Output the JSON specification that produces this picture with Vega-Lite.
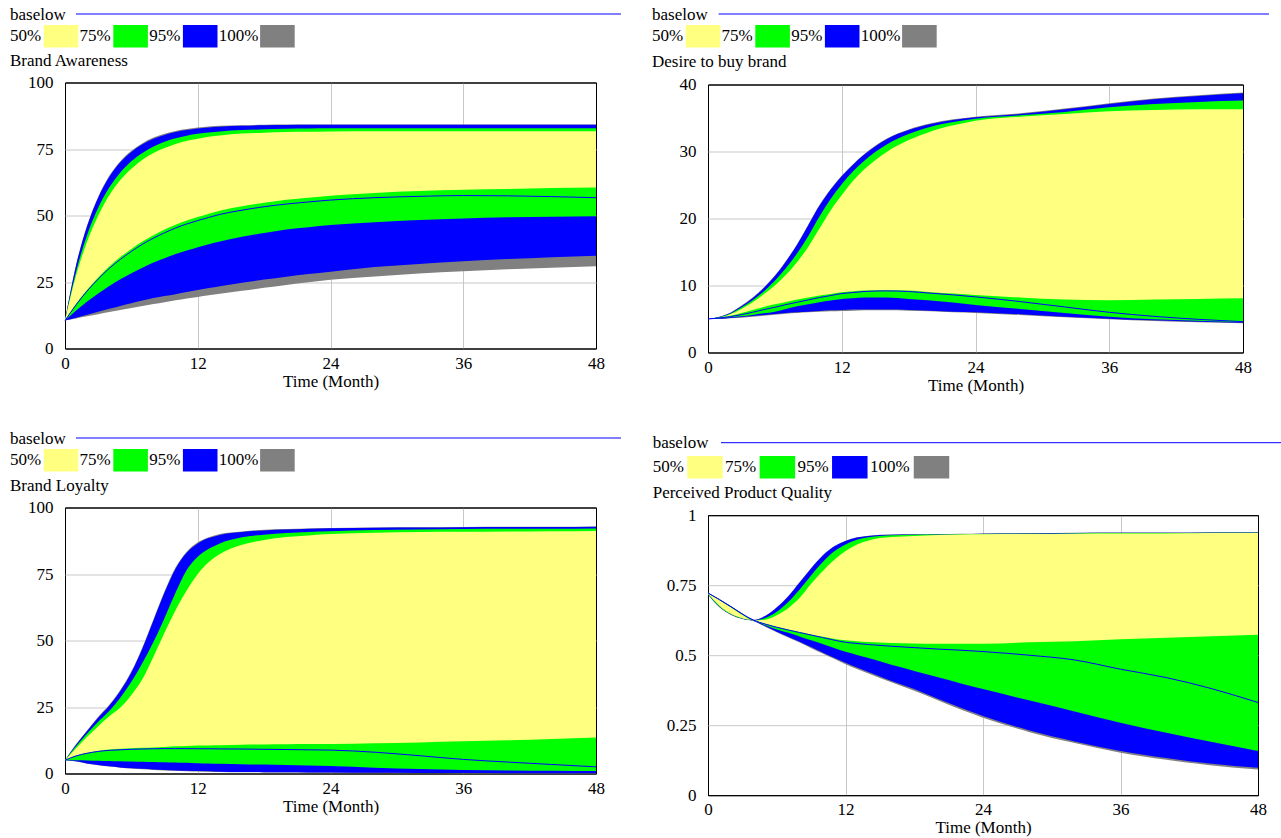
{
  "$schema": "https://vega.github.io/schema/vega-lite/v6.json",
  "background": "white",
  "padding": {"left": 9, "top": 5, "right": 0, "bottom": 0},
  "bounds": "flush",
  "spacing": 643,
  "hconcat": [
    {
      "bounds": "flush",
      "spacing": 424,
      "vconcat": [
        {
          "bounds": "flush",
          "spacing": 45.5,
          "vconcat": [
            {
              "width": 531, "height": 22.2, "view": {"stroke": null},
              "layer": [
                {"data": {"values": [{"series": "baselow"}]}, "mark": {"type": "text", "align": "left", "baseline": "alphabetic", "dy": 5.5},
                 "encoding": {"x": {"datum": "50%", "type": "nominal", "bandPosition": 0, "scale": {"type": "band", "domain": ["50%", "75%", "95%", "100%"], "range": [-55, 223.4], "paddingInner": 0, "paddingOuter": 0}, "axis": null},
                              "y": {"datum": "baselow", "type": "nominal", "scale": {"type": "point", "domain": ["baselow", "bands"], "padding": 0}, "axis": null},
                              "text": {"field": "series"}}},
                {"data": {"values": [{"series": "baselow"}]}, "mark": {"type": "rule", "color": "#0000FF", "strokeWidth": 1, "xOffset": 66, "x2Offset": 402.2},
                 "encoding": {"x": {"datum": "50%", "type": "nominal", "bandPosition": 0}, "x2": {"datum": "100%", "bandPosition": 0}, "y": {"datum": "baselow", "type": "nominal"}}},
                {"data": {"name": "bands"}, "mark": {"type": "text", "align": "left", "baseline": "alphabetic", "dy": 4.8},
                 "encoding": {"x": {"field": "band", "type": "nominal", "bandPosition": 0}, "y": {"datum": "bands", "type": "nominal"}, "text": {"field": "band"}}},
                {"data": {"name": "bands"}, "transform": [{"filter": "datum.band !== '100%'"}],
                 "mark": {"type": "point", "shape": "M-1,-0.647H1V0.647H-1Z", "size": 1197, "filled": true, "opacity": 1, "strokeWidth": 0, "xOffset": 16.2},
                 "encoding": {"x": {"field": "band", "type": "nominal"}, "y": {"datum": "bands", "type": "nominal"},
                              "color": {"field": "band", "type": "nominal", "scale": {"domain": ["50%", "75%", "95%", "100%"], "range": ["#FFFF80", "#00FF00", "#0000FF", "#808080"]}, "legend": null}}},
                {"data": {"name": "bands"}, "transform": [{"filter": "datum.band === '100%'"}],
                 "mark": {"type": "point", "shape": "M-1,-0.647H1V0.647H-1Z", "size": 1197, "filled": true, "opacity": 1, "strokeWidth": 0, "xOffset": 23.8},
                 "encoding": {"x": {"field": "band", "type": "nominal"}, "y": {"datum": "bands", "type": "nominal"},
                              "color": {"field": "band", "type": "nominal", "legend": null}}}
              ]
            },
            {
              "width": 531, "height": 266,
              "title": {"text": "Brand Awareness", "offset": 3.5},
              "data": {"name": "awareness"},
              "encoding": {"x": {"field": "t", "type": "quantitative", "scale": {"domain": [0, 48], "nice": false}, "axis": {"values": [0, 12, 24, 36, 48], "title": "Time (Month)"}}},
              "layer": [
                {"mark": {"type": "area", "color": "#808080", "opacity": 1, "interpolate": "monotone"}, "encoding": {"y": {"field": "mn", "type": "quantitative", "title": null, "scale": {"domain": [0, 100], "nice": false}, "axis": {"values": [0, 25, 50, 75, 100], "format": ".6~g"}}, "y2": {"field": "mx"}}},
                {"mark": {"type": "area", "color": "#0000FF", "opacity": 1, "interpolate": "monotone"}, "encoding": {"y": {"field": "bl", "type": "quantitative", "title": null}, "y2": {"field": "bh"}}},
                {"mark": {"type": "area", "color": "#00FF00", "opacity": 1, "interpolate": "monotone"}, "encoding": {"y": {"field": "gl", "type": "quantitative", "title": null}, "y2": {"field": "gh"}}},
                {"mark": {"type": "area", "color": "#FFFF80", "opacity": 1, "interpolate": "monotone"}, "encoding": {"y": {"field": "yl", "type": "quantitative", "title": null}, "y2": {"field": "yh"}}},
                {"mark": {"type": "line", "color": "#0000FF", "strokeWidth": 1, "interpolate": "monotone"}, "encoding": {"y": {"field": "base", "type": "quantitative", "title": null}}}
              ]
            }
          ]
        },
        {
          "bounds": "flush",
          "spacing": 46.5,
          "vconcat": [
            {
              "width": 531, "height": 22.2, "view": {"stroke": null},
              "layer": [
                {"data": {"values": [{"series": "baselow"}]}, "mark": {"type": "text", "align": "left", "baseline": "alphabetic", "dy": 5.5},
                 "encoding": {"x": {"datum": "50%", "type": "nominal", "bandPosition": 0, "scale": {"type": "band", "domain": ["50%", "75%", "95%", "100%"], "range": [-55, 223.4], "paddingInner": 0, "paddingOuter": 0}, "axis": null},
                              "y": {"datum": "baselow", "type": "nominal", "scale": {"type": "point", "domain": ["baselow", "bands"], "padding": 0}, "axis": null},
                              "text": {"field": "series"}}},
                {"data": {"values": [{"series": "baselow"}]}, "mark": {"type": "rule", "color": "#0000FF", "strokeWidth": 1, "xOffset": 66, "x2Offset": 402.2},
                 "encoding": {"x": {"datum": "50%", "type": "nominal", "bandPosition": 0}, "x2": {"datum": "100%", "bandPosition": 0}, "y": {"datum": "baselow", "type": "nominal"}}},
                {"data": {"name": "bands"}, "mark": {"type": "text", "align": "left", "baseline": "alphabetic", "dy": 4.8},
                 "encoding": {"x": {"field": "band", "type": "nominal", "bandPosition": 0}, "y": {"datum": "bands", "type": "nominal"}, "text": {"field": "band"}}},
                {"data": {"name": "bands"}, "transform": [{"filter": "datum.band !== '100%'"}],
                 "mark": {"type": "point", "shape": "M-1,-0.647H1V0.647H-1Z", "size": 1197, "filled": true, "opacity": 1, "strokeWidth": 0, "xOffset": 16.2},
                 "encoding": {"x": {"field": "band", "type": "nominal"}, "y": {"datum": "bands", "type": "nominal"},
                              "color": {"field": "band", "type": "nominal", "scale": {"domain": ["50%", "75%", "95%", "100%"], "range": ["#FFFF80", "#00FF00", "#0000FF", "#808080"]}, "legend": null}}},
                {"data": {"name": "bands"}, "transform": [{"filter": "datum.band === '100%'"}],
                 "mark": {"type": "point", "shape": "M-1,-0.647H1V0.647H-1Z", "size": 1197, "filled": true, "opacity": 1, "strokeWidth": 0, "xOffset": 23.8},
                 "encoding": {"x": {"field": "band", "type": "nominal"}, "y": {"datum": "bands", "type": "nominal"},
                              "color": {"field": "band", "type": "nominal", "legend": null}}}
              ]
            },
            {
              "width": 531, "height": 266,
              "title": {"text": "Brand Loyalty", "offset": 4},
              "data": {"name": "loyalty"},
              "encoding": {"x": {"field": "t", "type": "quantitative", "scale": {"domain": [0, 48], "nice": false}, "axis": {"values": [0, 12, 24, 36, 48], "title": "Time (Month)"}}},
              "layer": [
                {"mark": {"type": "area", "color": "#808080", "opacity": 1, "interpolate": "monotone"}, "encoding": {"y": {"field": "mn", "type": "quantitative", "title": null, "scale": {"domain": [0, 100], "nice": false}, "axis": {"values": [0, 25, 50, 75, 100], "format": ".6~g"}}, "y2": {"field": "mx"}}},
                {"mark": {"type": "area", "color": "#0000FF", "opacity": 1, "interpolate": "monotone"}, "encoding": {"y": {"field": "bl", "type": "quantitative", "title": null}, "y2": {"field": "bh"}}},
                {"mark": {"type": "area", "color": "#00FF00", "opacity": 1, "interpolate": "monotone"}, "encoding": {"y": {"field": "gl", "type": "quantitative", "title": null}, "y2": {"field": "gh"}}},
                {"mark": {"type": "area", "color": "#FFFF80", "opacity": 1, "interpolate": "monotone"}, "encoding": {"y": {"field": "yl", "type": "quantitative", "title": null}, "y2": {"field": "yh"}}},
                {"mark": {"type": "line", "color": "#0000FF", "strokeWidth": 1, "interpolate": "monotone"}, "encoding": {"y": {"field": "base", "type": "quantitative", "title": null}}}
              ]
            }
          ]
        }
      ]
    },
    {
      "bounds": "flush",
      "spacing": 428.7,
      "vconcat": [
        {
          "bounds": "flush",
          "spacing": 47.5,
          "vconcat": [
            {
              "width": 535, "height": 22.2, "view": {"stroke": null},
              "layer": [
                {"data": {"values": [{"series": "baselow"}]}, "mark": {"type": "text", "align": "left", "baseline": "alphabetic", "dy": 5.5},
                 "encoding": {"x": {"datum": "50%", "type": "nominal", "bandPosition": 0, "scale": {"type": "band", "domain": ["50%", "75%", "95%", "100%"], "range": [-56, 222.4], "paddingInner": 0, "paddingOuter": 0}, "axis": null},
                              "y": {"datum": "baselow", "type": "nominal", "scale": {"type": "point", "domain": ["baselow", "bands"], "padding": 0}, "axis": null},
                              "text": {"field": "series"}}},
                {"data": {"values": [{"series": "baselow"}]}, "mark": {"type": "rule", "color": "#0000FF", "strokeWidth": 1, "xOffset": 66.6, "x2Offset": 408.2},
                 "encoding": {"x": {"datum": "50%", "type": "nominal", "bandPosition": 0}, "x2": {"datum": "100%", "bandPosition": 0}, "y": {"datum": "baselow", "type": "nominal"}}},
                {"data": {"name": "bands"}, "mark": {"type": "text", "align": "left", "baseline": "alphabetic", "dy": 4.8},
                 "encoding": {"x": {"field": "band", "type": "nominal", "bandPosition": 0}, "y": {"datum": "bands", "type": "nominal"}, "text": {"field": "band"}}},
                {"data": {"name": "bands"}, "transform": [{"filter": "datum.band !== '100%'"}],
                 "mark": {"type": "point", "shape": "M-1,-0.647H1V0.647H-1Z", "size": 1197, "filled": true, "opacity": 1, "strokeWidth": 0, "xOffset": 16.2},
                 "encoding": {"x": {"field": "band", "type": "nominal"}, "y": {"datum": "bands", "type": "nominal"},
                              "color": {"field": "band", "type": "nominal", "scale": {"domain": ["50%", "75%", "95%", "100%"], "range": ["#FFFF80", "#00FF00", "#0000FF", "#808080"]}, "legend": null}}},
                {"data": {"name": "bands"}, "transform": [{"filter": "datum.band === '100%'"}],
                 "mark": {"type": "point", "shape": "M-1,-0.647H1V0.647H-1Z", "size": 1197, "filled": true, "opacity": 1, "strokeWidth": 0, "xOffset": 23.8},
                 "encoding": {"x": {"field": "band", "type": "nominal"}, "y": {"datum": "bands", "type": "nominal"},
                              "color": {"field": "band", "type": "nominal", "legend": null}}}
              ]
            },
            {
              "width": 535, "height": 268,
              "title": {"text": "Desire to buy brand", "offset": 5, "dx": -56},
              "data": {"name": "desire"},
              "encoding": {"x": {"field": "t", "type": "quantitative", "scale": {"domain": [0, 48], "nice": false}, "axis": {"values": [0, 12, 24, 36, 48], "title": "Time (Month)"}}},
              "layer": [
                {"mark": {"type": "area", "color": "#808080", "opacity": 1, "interpolate": "monotone"}, "encoding": {"y": {"field": "mn", "type": "quantitative", "title": null, "scale": {"domain": [0, 40], "nice": false}, "axis": {"values": [0, 10, 20, 30, 40], "format": ".6~g"}}, "y2": {"field": "mx"}}},
                {"mark": {"type": "area", "color": "#0000FF", "opacity": 1, "interpolate": "monotone"}, "encoding": {"y": {"field": "bl", "type": "quantitative", "title": null}, "y2": {"field": "bh"}}},
                {"mark": {"type": "area", "color": "#00FF00", "opacity": 1, "interpolate": "monotone"}, "encoding": {"y": {"field": "gl", "type": "quantitative", "title": null}, "y2": {"field": "gh"}}},
                {"mark": {"type": "area", "color": "#FFFF80", "opacity": 1, "interpolate": "monotone"}, "encoding": {"y": {"field": "yl", "type": "quantitative", "title": null}, "y2": {"field": "yh"}}},
                {"mark": {"type": "line", "color": "#0000FF", "strokeWidth": 1, "interpolate": "monotone"}, "encoding": {"y": {"field": "base", "type": "quantitative", "title": null}}}
              ]
            }
          ]
        },
        {
          "bounds": "flush",
          "spacing": 47.5,
          "vconcat": [
            {
              "width": 550, "height": 24.5, "view": {"stroke": null},
              "layer": [
                {"data": {"values": [{"series": "baselow"}]}, "mark": {"type": "text", "align": "left", "baseline": "alphabetic", "dy": 5.5},
                 "encoding": {"x": {"datum": "50%", "type": "nominal", "bandPosition": 0, "scale": {"type": "band", "domain": ["50%", "75%", "95%", "100%"], "range": [-55.3, 234.3], "paddingInner": 0, "paddingOuter": 0}, "axis": null},
                              "y": {"datum": "baselow", "type": "nominal", "scale": {"type": "point", "domain": ["baselow", "bands"], "padding": 0}, "axis": null},
                              "text": {"field": "series"}}},
                {"data": {"values": [{"series": "baselow"}]}, "mark": {"type": "rule", "color": "#0000FF", "strokeWidth": 1, "xOffset": 68.3, "x2Offset": 416},
                 "encoding": {"x": {"datum": "50%", "type": "nominal", "bandPosition": 0}, "x2": {"datum": "100%", "bandPosition": 0}, "y": {"datum": "baselow", "type": "nominal"}}},
                {"data": {"name": "bands"}, "mark": {"type": "text", "align": "left", "baseline": "alphabetic", "dy": 4.8},
                 "encoding": {"x": {"field": "band", "type": "nominal", "bandPosition": 0}, "y": {"datum": "bands", "type": "nominal"}, "text": {"field": "band"}}},
                {"data": {"name": "bands"}, "transform": [{"filter": "datum.band !== '100%'"}],
                 "mark": {"type": "point", "shape": "M-1,-0.631H1V0.631H-1Z", "size": 1260, "filled": true, "opacity": 1, "strokeWidth": 0, "xOffset": 16.1},
                 "encoding": {"x": {"field": "band", "type": "nominal"}, "y": {"datum": "bands", "type": "nominal"},
                              "color": {"field": "band", "type": "nominal", "scale": {"domain": ["50%", "75%", "95%", "100%"], "range": ["#FFFF80", "#00FF00", "#0000FF", "#808080"]}, "legend": null}}},
                {"data": {"name": "bands"}, "transform": [{"filter": "datum.band === '100%'"}],
                 "mark": {"type": "point", "shape": "M-1,-0.631H1V0.631H-1Z", "size": 1260, "filled": true, "opacity": 1, "strokeWidth": 0, "xOffset": 25.4},
                 "encoding": {"x": {"field": "band", "type": "nominal"}, "y": {"datum": "bands", "type": "nominal"},
                              "color": {"field": "band", "type": "nominal", "legend": null}}}
              ]
            },
            {
              "width": 550, "height": 280,
              "title": {"text": "Perceived Product Quality", "offset": 4.5, "dx": -55.3},
              "data": {"name": "quality"},
              "encoding": {"x": {"field": "t", "type": "quantitative", "scale": {"domain": [0, 48], "nice": false}, "axis": {"values": [0, 12, 24, 36, 48], "title": "Time (Month)"}}},
              "layer": [
                {"mark": {"type": "area", "color": "#808080", "opacity": 1, "interpolate": "monotone"}, "encoding": {"y": {"field": "mn", "type": "quantitative", "title": null, "scale": {"domain": [0, 1], "nice": false}, "axis": {"values": [0, 0.25, 0.5, 0.75, 1], "format": ".6~g"}}, "y2": {"field": "mx"}}},
                {"mark": {"type": "area", "color": "#0000FF", "opacity": 1, "interpolate": "monotone"}, "encoding": {"y": {"field": "bl", "type": "quantitative", "title": null}, "y2": {"field": "bh"}}},
                {"mark": {"type": "area", "color": "#00FF00", "opacity": 1, "interpolate": "monotone"}, "encoding": {"y": {"field": "gl", "type": "quantitative", "title": null}, "y2": {"field": "gh"}}},
                {"mark": {"type": "area", "color": "#FFFF80", "opacity": 1, "interpolate": "monotone"}, "encoding": {"y": {"field": "yl", "type": "quantitative", "title": null}, "y2": {"field": "yh"}}},
                {"mark": {"type": "line", "color": "#0000FF", "strokeWidth": 1, "interpolate": "monotone"}, "encoding": {"y": {"field": "base", "type": "quantitative", "title": null}}}
              ]
            }
          ]
        }
      ]
    }
  ],
  "datasets": {
    "bands": [{"band": "50%"}, {"band": "75%"}, {"band": "95%"}, {"band": "100%"}],
    "awareness": [
      {"t": 0, "mn": 10.5, "bl": 10.5, "gl": 10.5, "yl": 10.5, "base": 10.5, "yh": 10.5, "gh": 10.5, "bh": 10.5, "mx": 10.5},
      {"t": 1, "mn": 11.3, "bl": 11.6, "gl": 14.3, "yl": 16.8, "base": 16.4, "yh": 27.4, "gh": 28.9, "bh": 31.2, "mx": 31.4},
      {"t": 2, "mn": 12.1, "bl": 12.7, "gl": 17.7, "yl": 22.1, "base": 21.6, "yh": 40.2, "gh": 42.7, "bh": 46.0, "mx": 46.3},
      {"t": 3, "mn": 12.9, "bl": 13.8, "gl": 20.7, "yl": 26.7, "base": 26.1, "yh": 50.0, "gh": 52.9, "bh": 56.7, "mx": 57.0},
      {"t": 4, "mn": 13.7, "bl": 14.9, "gl": 23.5, "yl": 30.8, "base": 30.1, "yh": 57.6, "gh": 60.5, "bh": 64.5, "mx": 64.9},
      {"t": 5, "mn": 14.5, "bl": 16.0, "gl": 26.0, "yl": 34.4, "base": 33.5, "yh": 63.3, "gh": 66.2, "bh": 70.0, "mx": 70.4},
      {"t": 6, "mn": 15.2, "bl": 17.0, "gl": 28.3, "yl": 37.4, "base": 36.5, "yh": 67.6, "gh": 70.4, "bh": 73.9, "mx": 74.3},
      {"t": 7, "mn": 16.0, "bl": 18.0, "gl": 30.4, "yl": 40.2, "base": 39.2, "yh": 71.0, "gh": 73.5, "bh": 76.8, "mx": 77.2},
      {"t": 8, "mn": 16.7, "bl": 19.0, "gl": 32.3, "yl": 42.6, "base": 41.5, "yh": 73.5, "gh": 75.9, "bh": 78.9, "mx": 79.3},
      {"t": 9, "mn": 17.4, "bl": 19.7, "gl": 33.9, "yl": 44.7, "base": 43.5, "yh": 75.4, "gh": 77.7, "bh": 80.3, "mx": 80.7},
      {"t": 10, "mn": 18.1, "bl": 20.4, "gl": 35.5, "yl": 46.5, "base": 45.3, "yh": 76.9, "gh": 79.0, "bh": 81.4, "mx": 81.8},
      {"t": 11, "mn": 18.8, "bl": 21.2, "gl": 36.8, "yl": 48.1, "base": 46.8, "yh": 78.1, "gh": 80.0, "bh": 82.1, "mx": 82.5},
      {"t": 12, "mn": 19.4, "bl": 22.0, "gl": 38.1, "yl": 49.4, "base": 48.1, "yh": 78.9, "gh": 80.7, "bh": 82.7, "mx": 83.1},
      {"t": 13, "mn": 20.0, "bl": 22.7, "gl": 39.2, "yl": 50.7, "base": 49.3, "yh": 79.6, "gh": 81.2, "bh": 83.1, "mx": 83.5},
      {"t": 14, "mn": 20.6, "bl": 23.4, "gl": 40.2, "yl": 51.8, "base": 50.4, "yh": 80.1, "gh": 81.6, "bh": 83.4, "mx": 83.7},
      {"t": 16, "mn": 21.7, "bl": 24.7, "gl": 42.0, "yl": 53.5, "base": 52.0, "yh": 80.8, "gh": 82.1, "bh": 83.7, "mx": 83.9},
      {"t": 18, "mn": 22.8, "bl": 25.9, "gl": 43.4, "yl": 54.8, "base": 53.3, "yh": 81.1, "gh": 82.4, "bh": 83.9, "mx": 84.1},
      {"t": 20, "mn": 23.9, "bl": 27.0, "gl": 44.7, "yl": 55.9, "base": 54.3, "yh": 81.4, "gh": 82.6, "bh": 84.0, "mx": 84.2},
      {"t": 22, "mn": 24.9, "bl": 28.0, "gl": 45.6, "yl": 56.7, "base": 55.1, "yh": 81.5, "gh": 82.7, "bh": 84.1, "mx": 84.2},
      {"t": 24, "mn": 25.8, "bl": 28.9, "gl": 46.4, "yl": 57.4, "base": 55.8, "yh": 81.6, "gh": 82.8, "bh": 84.1, "mx": 84.2},
      {"t": 28, "mn": 27.1, "bl": 30.6, "gl": 47.5, "yl": 58.5, "base": 56.7, "yh": 81.7, "gh": 82.8, "bh": 84.1, "mx": 84.2},
      {"t": 32, "mn": 28.2, "bl": 31.8, "gl": 48.3, "yl": 59.2, "base": 57.2, "yh": 81.7, "gh": 82.8, "bh": 84.1, "mx": 84.2},
      {"t": 36, "mn": 29.0, "bl": 32.8, "gl": 48.9, "yl": 59.7, "base": 57.5, "yh": 81.7, "gh": 82.8, "bh": 84.1, "mx": 84.2},
      {"t": 40, "mn": 29.8, "bl": 33.6, "gl": 49.3, "yl": 60.0, "base": 57.4, "yh": 81.7, "gh": 82.8, "bh": 84.1, "mx": 84.2},
      {"t": 44, "mn": 30.4, "bl": 34.3, "gl": 49.5, "yl": 60.3, "base": 57.1, "yh": 81.7, "gh": 82.8, "bh": 84.1, "mx": 84.2},
      {"t": 48, "mn": 30.9, "bl": 34.9, "gl": 49.7, "yl": 60.5, "base": 56.7, "yh": 81.7, "gh": 82.8, "bh": 84.1, "mx": 84.2}
    ],
    "desire": [
      {"t": 0, "mn": 5, "bl": 5, "gl": 5, "yl": 5, "base": 5, "yh": 5, "gh": 5, "bh": 5, "mx": 5},
      {"t": 1, "mn": 5.0, "bl": 5.05, "gl": 5.1, "yl": 5.2, "base": 5.15, "yh": 5.2, "gh": 5.25, "bh": 5.3, "mx": 5.35},
      {"t": 2, "mn": 5.1, "bl": 5.15, "gl": 5.25, "yl": 5.5, "base": 5.35, "yh": 5.7, "gh": 5.8, "bh": 5.9, "mx": 5.95},
      {"t": 3, "mn": 5.2, "bl": 5.3, "gl": 5.4, "yl": 5.9, "base": 5.65, "yh": 6.5, "gh": 6.7, "bh": 6.9, "mx": 7.0},
      {"t": 4, "mn": 5.35, "bl": 5.45, "gl": 5.6, "yl": 6.35, "base": 6.0, "yh": 7.5, "gh": 7.8, "bh": 8.1, "mx": 8.2},
      {"t": 5, "mn": 5.5, "bl": 5.6, "gl": 5.85, "yl": 6.8, "base": 6.4, "yh": 8.7, "gh": 9.1, "bh": 9.6, "mx": 9.7},
      {"t": 6, "mn": 5.65, "bl": 5.75, "gl": 6.1, "yl": 7.2, "base": 6.75, "yh": 10.0, "gh": 10.7, "bh": 11.4, "mx": 11.5},
      {"t": 7, "mn": 5.8, "bl": 5.9, "gl": 6.5, "yl": 7.55, "base": 7.15, "yh": 11.6, "gh": 12.6, "bh": 13.6, "mx": 13.7},
      {"t": 8, "mn": 5.9, "bl": 6.0, "gl": 6.9, "yl": 7.9, "base": 7.5, "yh": 13.5, "gh": 14.8, "bh": 16.1, "mx": 16.2},
      {"t": 9, "mn": 6.0, "bl": 6.1, "gl": 7.2, "yl": 8.2, "base": 7.85, "yh": 15.8, "gh": 17.4, "bh": 19.0, "mx": 19.1},
      {"t": 10, "mn": 6.1, "bl": 6.2, "gl": 7.5, "yl": 8.5, "base": 8.2, "yh": 18.5, "gh": 20.3, "bh": 21.9, "mx": 22.0},
      {"t": 11, "mn": 6.15, "bl": 6.3, "gl": 7.75, "yl": 8.75, "base": 8.5, "yh": 21.2, "gh": 22.9, "bh": 24.3, "mx": 24.4},
      {"t": 12, "mn": 6.2, "bl": 6.35, "gl": 8.0, "yl": 9.0, "base": 8.8, "yh": 23.5, "gh": 25.1, "bh": 26.3, "mx": 26.4},
      {"t": 13, "mn": 6.25, "bl": 6.4, "gl": 8.1, "yl": 9.15, "base": 8.95, "yh": 25.6, "gh": 27.0, "bh": 28.0, "mx": 28.1},
      {"t": 14, "mn": 6.3, "bl": 6.4, "gl": 8.2, "yl": 9.25, "base": 9.1, "yh": 27.3, "gh": 28.6, "bh": 29.5, "mx": 29.6},
      {"t": 16, "mn": 6.3, "bl": 6.4, "gl": 8.2, "yl": 9.3, "base": 9.2, "yh": 29.9, "gh": 31.0, "bh": 31.8, "mx": 31.9},
      {"t": 18, "mn": 6.25, "bl": 6.35, "gl": 8.0, "yl": 9.25, "base": 9.1, "yh": 31.7, "gh": 32.6, "bh": 33.2, "mx": 33.3},
      {"t": 20, "mn": 6.15, "bl": 6.25, "gl": 7.75, "yl": 9.0, "base": 8.85, "yh": 33.0, "gh": 33.7, "bh": 34.1, "mx": 34.2},
      {"t": 22, "mn": 6.0, "bl": 6.1, "gl": 7.45, "yl": 8.8, "base": 8.6, "yh": 33.9, "gh": 34.4, "bh": 34.7, "mx": 34.8},
      {"t": 24, "mn": 5.9, "bl": 6.0, "gl": 7.1, "yl": 8.6, "base": 8.3, "yh": 34.6, "gh": 34.9, "bh": 35.1, "mx": 35.2},
      {"t": 28, "mn": 5.6, "bl": 5.7, "gl": 6.5, "yl": 8.2, "base": 7.6, "yh": 35.2, "gh": 35.4, "bh": 35.6, "mx": 35.7},
      {"t": 32, "mn": 5.25, "bl": 5.35, "gl": 5.9, "yl": 7.9, "base": 6.8, "yh": 35.6, "gh": 35.9, "bh": 36.3, "mx": 36.4},
      {"t": 36, "mn": 4.95, "bl": 5.05, "gl": 5.35, "yl": 7.8, "base": 6.0, "yh": 36.0, "gh": 36.6, "bh": 37.1, "mx": 37.2},
      {"t": 40, "mn": 4.7, "bl": 4.8, "gl": 4.95, "yl": 7.9, "base": 5.4, "yh": 36.2, "gh": 37.1, "bh": 37.8, "mx": 37.9},
      {"t": 44, "mn": 4.5, "bl": 4.6, "gl": 4.75, "yl": 8.0, "base": 4.95, "yh": 36.3, "gh": 37.4, "bh": 38.3, "mx": 38.4},
      {"t": 48, "mn": 4.35, "bl": 4.45, "gl": 4.55, "yl": 8.1, "base": 4.6, "yh": 36.3, "gh": 37.6, "bh": 38.7, "mx": 38.8}
    ],
    "loyalty": [
      {"t": 0, "mn": 5, "bl": 5, "gl": 5, "yl": 5, "base": 5, "yh": 5, "gh": 5, "bh": 5, "mx": 5},
      {"t": 1, "mn": 4.5, "bl": 4.6, "gl": 5.0, "yl": 6.8, "base": 6.6, "yh": 9.5, "gh": 10.2, "bh": 10.8, "mx": 11.0},
      {"t": 2, "mn": 3.7, "bl": 3.8, "gl": 4.9, "yl": 7.8, "base": 7.6, "yh": 13.8, "gh": 15.0, "bh": 16.0, "mx": 16.2},
      {"t": 3, "mn": 3.1, "bl": 3.2, "gl": 4.8, "yl": 8.5, "base": 8.3, "yh": 17.8, "gh": 19.5, "bh": 21.0, "mx": 21.3},
      {"t": 4, "mn": 2.6, "bl": 2.7, "gl": 4.7, "yl": 9.0, "base": 8.7, "yh": 21.5, "gh": 23.5, "bh": 25.5, "mx": 25.8},
      {"t": 5, "mn": 2.2, "bl": 2.3, "gl": 4.6, "yl": 9.3, "base": 8.9, "yh": 24.8, "gh": 28.5, "bh": 31.0, "mx": 31.4},
      {"t": 6, "mn": 1.9, "bl": 2.0, "gl": 4.5, "yl": 9.5, "base": 9.1, "yh": 29.5, "gh": 34.5, "bh": 38.0, "mx": 38.4},
      {"t": 7, "mn": 1.6, "bl": 1.75, "gl": 4.4, "yl": 9.7, "base": 9.2, "yh": 35.5, "gh": 41.5, "bh": 47.0, "mx": 47.5},
      {"t": 8, "mn": 1.35, "bl": 1.5, "gl": 4.3, "yl": 9.8, "base": 9.3, "yh": 44.0, "gh": 49.5, "bh": 57.5, "mx": 58.0},
      {"t": 9, "mn": 1.15, "bl": 1.3, "gl": 4.2, "yl": 10.0, "base": 9.35, "yh": 53.0, "gh": 58.5, "bh": 68.0, "mx": 68.5},
      {"t": 10, "mn": 1.0, "bl": 1.15, "gl": 4.1, "yl": 10.2, "base": 9.35, "yh": 61.5, "gh": 68.0, "bh": 77.0, "mx": 77.5},
      {"t": 11, "mn": 0.85, "bl": 1.0, "gl": 4.0, "yl": 10.35, "base": 9.35, "yh": 68.8, "gh": 76.5, "bh": 83.0, "mx": 83.4},
      {"t": 12, "mn": 0.75, "bl": 0.9, "gl": 3.9, "yl": 10.5, "base": 9.3, "yh": 75.0, "gh": 81.5, "bh": 86.5, "mx": 86.9},
      {"t": 13, "mn": 0.7, "bl": 0.8, "gl": 3.8, "yl": 10.55, "base": 9.3, "yh": 79.5, "gh": 84.5, "bh": 88.5, "mx": 88.8},
      {"t": 14, "mn": 0.6, "bl": 0.7, "gl": 3.7, "yl": 10.6, "base": 9.25, "yh": 82.5, "gh": 86.5, "bh": 89.7, "mx": 90.0},
      {"t": 16, "mn": 0.5, "bl": 0.6, "gl": 3.5, "yl": 10.8, "base": 9.2, "yh": 86.0, "gh": 88.8, "bh": 90.8, "mx": 91.0},
      {"t": 18, "mn": 0.4, "bl": 0.5, "gl": 3.35, "yl": 10.9, "base": 9.1, "yh": 87.8, "gh": 89.8, "bh": 91.4, "mx": 91.6},
      {"t": 20, "mn": 0.35, "bl": 0.45, "gl": 3.2, "yl": 11.0, "base": 9.0, "yh": 88.9, "gh": 90.4, "bh": 91.7, "mx": 91.9},
      {"t": 22, "mn": 0.3, "bl": 0.4, "gl": 3.0, "yl": 11.05, "base": 8.9, "yh": 89.5, "gh": 90.8, "bh": 92.0, "mx": 92.1},
      {"t": 24, "mn": 0.25, "bl": 0.35, "gl": 2.8, "yl": 11.1, "base": 8.8, "yh": 90.0, "gh": 91.1, "bh": 92.2, "mx": 92.3},
      {"t": 28, "mn": 0.2, "bl": 0.25, "gl": 2.2, "yl": 11.4, "base": 8.0, "yh": 90.5, "gh": 91.5, "bh": 92.4, "mx": 92.5},
      {"t": 32, "mn": 0.15, "bl": 0.2, "gl": 1.7, "yl": 11.7, "base": 6.7, "yh": 90.8, "gh": 91.7, "bh": 92.5, "mx": 92.6},
      {"t": 36, "mn": 0.1, "bl": 0.15, "gl": 1.3, "yl": 12.1, "base": 5.3, "yh": 90.9, "gh": 91.9, "bh": 92.6, "mx": 92.7},
      {"t": 40, "mn": 0.08, "bl": 0.12, "gl": 1.1, "yl": 12.5, "base": 4.3, "yh": 91.0, "gh": 92.0, "bh": 92.7, "mx": 92.8},
      {"t": 44, "mn": 0.05, "bl": 0.1, "gl": 1.0, "yl": 13.0, "base": 3.4, "yh": 91.1, "gh": 92.0, "bh": 92.7, "mx": 92.8},
      {"t": 48, "mn": 0.05, "bl": 0.1, "gl": 0.9, "yl": 13.5, "base": 2.5, "yh": 91.2, "gh": 92.1, "bh": 92.8, "mx": 92.9}
    ],
    "quality": [
      {"t": 0, "mn": 0.717, "bl": 0.718, "gl": 0.719, "yl": 0.72, "base": 0.722, "yh": 0.721, "gh": 0.722, "bh": 0.723, "mx": 0.724},
      {"t": 1, "mn": 0.671, "bl": 0.672, "gl": 0.674, "yl": 0.677, "base": 0.698, "yh": 0.697, "gh": 0.699, "bh": 0.7, "mx": 0.701},
      {"t": 2, "mn": 0.644, "bl": 0.645, "gl": 0.646, "yl": 0.648, "base": 0.673, "yh": 0.67, "gh": 0.673, "bh": 0.675, "mx": 0.676},
      {"t": 3, "mn": 0.629, "bl": 0.63, "gl": 0.631, "yl": 0.632, "base": 0.647, "yh": 0.644, "gh": 0.646, "bh": 0.648, "mx": 0.649},
      {"t": 4, "mn": 0.621, "bl": 0.622, "gl": 0.623, "yl": 0.624, "base": 0.625, "yh": 0.624, "gh": 0.625, "bh": 0.626, "mx": 0.627},
      {"t": 5, "mn": 0.602, "bl": 0.603, "gl": 0.607, "yl": 0.612, "base": 0.611, "yh": 0.627, "gh": 0.633, "bh": 0.64, "mx": 0.641},
      {"t": 6, "mn": 0.582, "bl": 0.584, "gl": 0.592, "yl": 0.601, "base": 0.6, "yh": 0.643, "gh": 0.655, "bh": 0.67, "mx": 0.671},
      {"t": 7, "mn": 0.563, "bl": 0.566, "gl": 0.58, "yl": 0.592, "base": 0.59, "yh": 0.668, "gh": 0.69, "bh": 0.71, "mx": 0.711},
      {"t": 8, "mn": 0.545, "bl": 0.548, "gl": 0.567, "yl": 0.583, "base": 0.581, "yh": 0.705, "gh": 0.735, "bh": 0.76, "mx": 0.761},
      {"t": 9, "mn": 0.525, "bl": 0.529, "gl": 0.553, "yl": 0.574, "base": 0.572, "yh": 0.755, "gh": 0.785, "bh": 0.81, "mx": 0.811},
      {"t": 10, "mn": 0.506, "bl": 0.51, "gl": 0.54, "yl": 0.566, "base": 0.563, "yh": 0.8, "gh": 0.832, "bh": 0.855, "mx": 0.856},
      {"t": 11, "mn": 0.487, "bl": 0.491, "gl": 0.526, "yl": 0.559, "base": 0.554, "yh": 0.84, "gh": 0.87, "bh": 0.888, "mx": 0.889},
      {"t": 12, "mn": 0.468, "bl": 0.473, "gl": 0.512, "yl": 0.553, "base": 0.546, "yh": 0.872, "gh": 0.895, "bh": 0.908, "mx": 0.909},
      {"t": 13, "mn": 0.451, "bl": 0.456, "gl": 0.501, "yl": 0.55, "base": 0.542, "yh": 0.895, "gh": 0.912, "bh": 0.92, "mx": 0.921},
      {"t": 14, "mn": 0.435, "bl": 0.44, "gl": 0.49, "yl": 0.547, "base": 0.538, "yh": 0.91, "gh": 0.921, "bh": 0.926, "mx": 0.927},
      {"t": 16, "mn": 0.403, "bl": 0.408, "gl": 0.466, "yl": 0.544, "base": 0.532, "yh": 0.922, "gh": 0.928, "bh": 0.93, "mx": 0.931},
      {"t": 18, "mn": 0.373, "bl": 0.379, "gl": 0.444, "yl": 0.542, "base": 0.527, "yh": 0.926, "gh": 0.93, "bh": 0.931, "mx": 0.932},
      {"t": 20, "mn": 0.34, "bl": 0.345, "gl": 0.422, "yl": 0.541, "base": 0.522, "yh": 0.929, "gh": 0.931, "bh": 0.932, "mx": 0.933},
      {"t": 22, "mn": 0.307, "bl": 0.313, "gl": 0.4, "yl": 0.541, "base": 0.518, "yh": 0.931, "gh": 0.932, "bh": 0.933, "mx": 0.934},
      {"t": 24, "mn": 0.277, "bl": 0.283, "gl": 0.379, "yl": 0.541, "base": 0.513, "yh": 0.932, "gh": 0.933, "bh": 0.934, "mx": 0.935},
      {"t": 28, "mn": 0.226, "bl": 0.232, "gl": 0.339, "yl": 0.546, "base": 0.5, "yh": 0.933, "gh": 0.934, "bh": 0.935, "mx": 0.936},
      {"t": 32, "mn": 0.186, "bl": 0.192, "gl": 0.299, "yl": 0.55, "base": 0.483, "yh": 0.934, "gh": 0.935, "bh": 0.936, "mx": 0.937},
      {"t": 36, "mn": 0.152, "bl": 0.158, "gl": 0.259, "yl": 0.557, "base": 0.45, "yh": 0.935, "gh": 0.936, "bh": 0.937, "mx": 0.938},
      {"t": 40, "mn": 0.127, "bl": 0.133, "gl": 0.223, "yl": 0.562, "base": 0.42, "yh": 0.935, "gh": 0.936, "bh": 0.937, "mx": 0.938},
      {"t": 44, "mn": 0.106, "bl": 0.112, "gl": 0.19, "yl": 0.568, "base": 0.38, "yh": 0.936, "gh": 0.937, "bh": 0.938, "mx": 0.939},
      {"t": 48, "mn": 0.092, "bl": 0.098, "gl": 0.158, "yl": 0.573, "base": 0.331, "yh": 0.936, "gh": 0.937, "bh": 0.938, "mx": 0.939}
    ]
  },
  "config": {
    "font": "Liberation Serif",
    "view": {"stroke": "#000000", "strokeWidth": 1},
    "text": {"font": "Liberation Serif", "fontSize": 17, "color": "#000000"},
    "axis": {
      "labelFont": "Liberation Serif", "labelFontSize": 17, "labelColor": "#000000",
      "titleFont": "Liberation Serif", "titleFontSize": 17, "titleFontWeight": "normal", "titleColor": "#000000",
      "grid": true, "gridWidth": 1,
      "gridColor": {"condition": {"test": "datum.index === 0 || datum.index === 1", "value": "#000000"}, "value": "#C8C8C8"},
      "ticks": false, "tickSize": 0, "domain": false,
      "labelFlush": false, "labelOverlap": false, "zindex": 1
    },
    "axisX": {"labelPadding": 6.5, "titlePadding": 2},
    "axisY": {"labelPadding": 12},
    "title": {"font": "Liberation Serif", "fontSize": 17, "fontWeight": "normal", "color": "#000000", "anchor": "start", "frame": "group", "baseline": "alphabetic", "dx": -55}
  }
}
